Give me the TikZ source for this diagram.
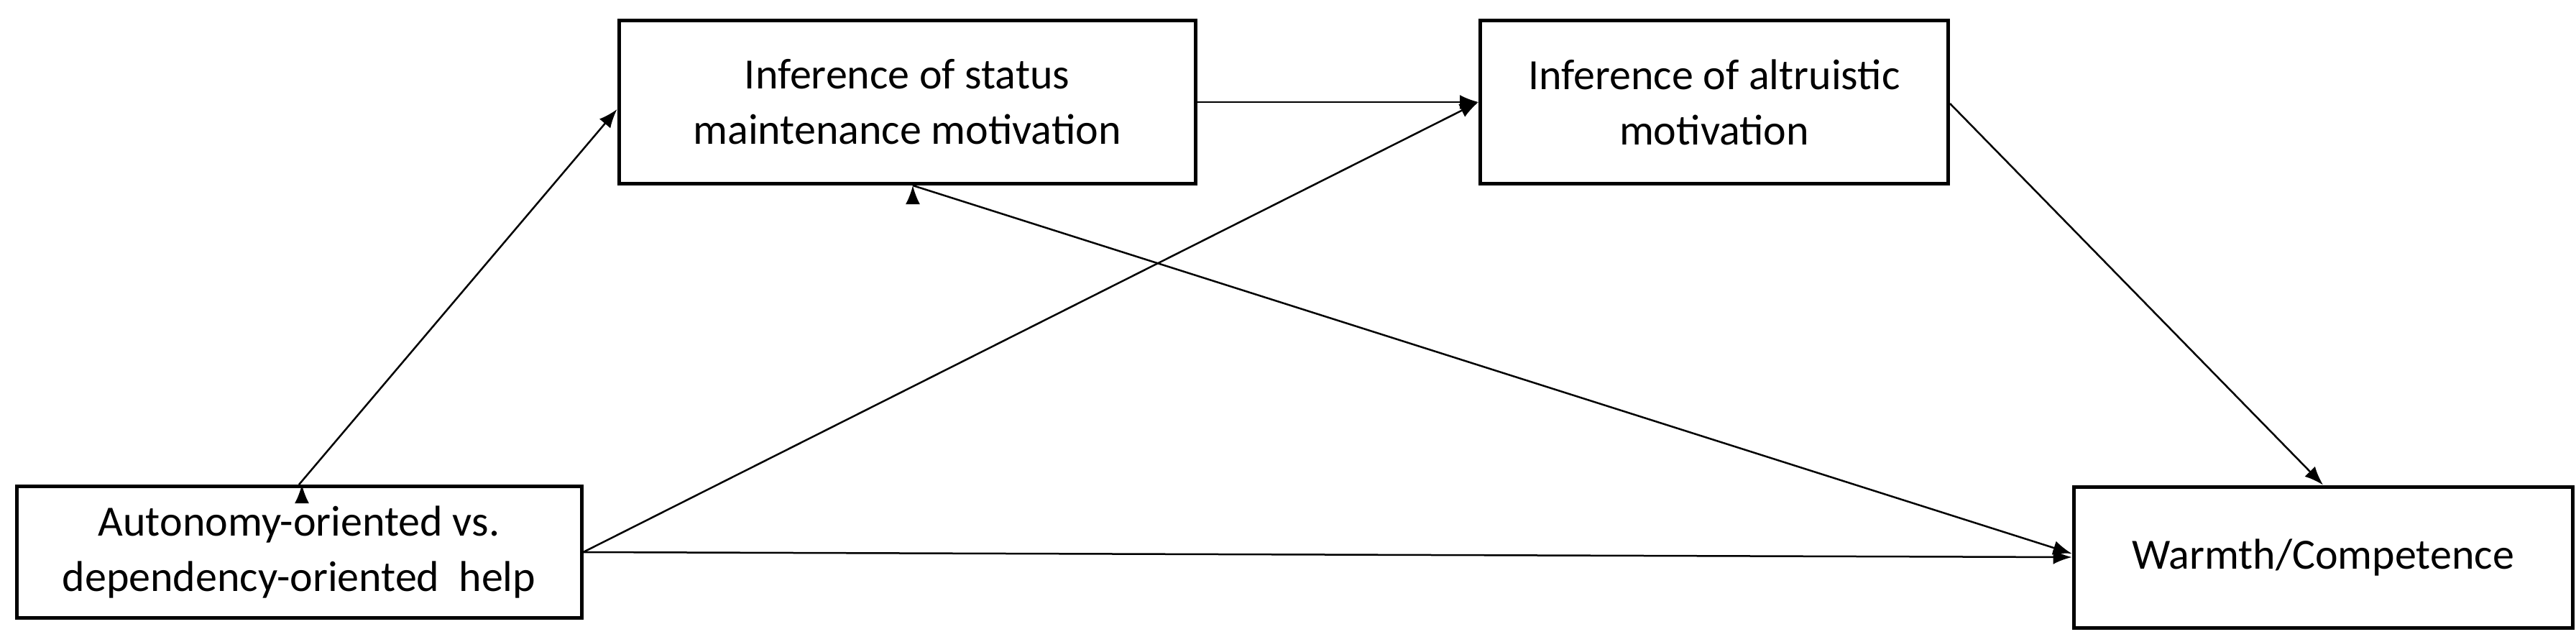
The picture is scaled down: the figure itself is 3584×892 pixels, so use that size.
\documentclass[tikz,border=0pt]{standalone}
\usepackage{fontspec}
\setmainfont{Carlito}
\usetikzlibrary{arrows.meta}
\begin{document}
\begin{tikzpicture}[x=1pt,y=-1pt,
 box/.style={draw,line width=5pt,align=center,inner sep=0pt,font=\fontsize{60}{77}\selectfont},
 arr/.style={line width=2.5pt,-{Latex[length=26pt,width=20pt]}}]
\useasboundingbox (0,0) rectangle (3584,892);
\node[box,minimum width=786pt,minimum height=183pt] (a) at (416,768) {Autonomy-oriented vs.\\dependency-oriented\ \ help};
\node[box,minimum width=802pt,minimum height=227pt] (s) at (1262,142) {Inference of status\\maintenance motivation};
\node[box,minimum width=651pt,minimum height=227pt] (t) at (2385,142) {Inference of altruistic\\motivation};
\node[box,minimum width=694pt,minimum height=196pt] (w) at (3232,775) {Warmth/Competence};
\draw[arr] (a.north |- a.north) ++(4,0) coordinate (a1);
\draw[arr] (a.north) -- (s.west |- 0,152);
\draw[arr] (a.east) -- (t.west |- 0,142);
\draw[arr] (a.east) -- (w.west);
\draw[arr] (s.south) ++(8,0) coordinate (s1);
\draw[arr] (s1) -- (w.west |- 0,770);
\draw[arr] (s.east) -- (t.west);
\draw[arr] (t.east |- 0,144) -- (w.north);
\end{tikzpicture}
\end{document}
